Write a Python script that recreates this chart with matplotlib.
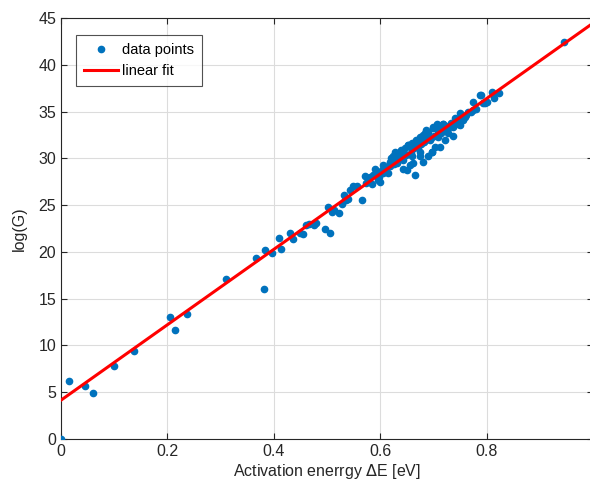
import numpy as np
import matplotlib
matplotlib.use('Agg')
import matplotlib.pyplot as plt

plt.rcParams['font.family'] = ['Liberation Sans', 'DejaVu Sans']

# activation energy [eV] and log(G)
dE = [0.0, 0.0145, 0.045, 0.061, 0.099, 0.137, 0.205, 0.214, 0.236, 0.31,
      0.367, 0.382, 0.384, 0.396, 0.409, 0.414, 0.43, 0.437, 0.449, 0.455,
      0.461, 0.467, 0.476, 0.479, 0.496, 0.506, 0.501, 0.509, 0.513, 0.523,
      0.528, 0.532, 0.535, 0.54, 0.534, 0.543, 0.549, 0.556, 0.566, 0.571,
      0.574, 0.579, 0.584, 0.586, 0.593, 0.596, 0.6, 0.603, 0.606, 0.609,
      0.615, 0.618, 0.624, 0.631, 0.665, 0.643, 0.631, 0.656, 0.662, 0.674,
      0.68, 0.69, 0.697, 0.703, 0.706, 0.709, 0.637, 0.647, 0.653, 0.659,
      0.668, 0.674, 0.684, 0.69, 0.7, 0.618, 0.612, 0.606, 0.712, 0.722,
      0.728, 0.737, 0.747, 0.75, 0.759, 0.765, 0.775, 0.781, 0.789, 0.797,
      0.7, 0.706, 0.718, 0.687, 0.68, 0.741, 0.787, 0.794, 0.81, 0.813,
      0.824, 0.945, 0.737, 0.75, 0.697, 0.643, 0.65, 0.628, 0.64, 0.653,
      0.668, 0.687, 0.718, 0.725, 0.6, 0.606, 0.618, 0.659, 0.674, 0.762,
      0.775, 0.8, 0.812, 0.58, 0.59, 0.62, 0.635, 0.645, 0.66, 0.67,
      0.678, 0.693, 0.71, 0.715, 0.73, 0.755, 0.77,
      0.625, 0.633, 0.641, 0.649, 0.657, 0.664, 0.671, 0.677, 0.683, 0.689,
      0.695, 0.701, 0.708, 0.714, 0.72, 0.727, 0.733, 0.744, 0.752, 0.598]
logG = [0.0, 6.2, 5.64, 4.96, 7.8, 9.45, 13.05, 11.66, 13.37, 17.15,
        19.33, 15.98, 20.2, 19.86, 21.5, 20.29, 21.97, 21.4, 21.97, 21.9,
        22.9, 23.0, 22.9, 23.1, 22.4, 21.97, 24.75, 24.3, 24.5, 24.2,
        25.1, 26.05, 25.5, 25.7, 25.5, 26.6, 27.0, 27.0, 25.5, 28.1,
        27.4, 27.85, 27.3, 28.2, 28.4, 27.7, 27.5, 28.7, 28.4, 29.1,
        28.45, 29.2, 30.2, 29.45, 28.2, 29.8, 29.8, 29.3, 29.45, 30.3,
        29.6, 30.2, 30.7, 31.2, 33.55, 32.3, 30.7, 31.06, 31.4, 31.6,
        31.95, 32.3, 32.7, 32.8, 33.2, 29.45, 29.1, 28.7, 31.2, 31.95,
        32.7, 33.4, 33.7, 34.8, 34.4, 35.0, 36.0, 35.3, 36.75, 35.9,
        33.4, 33.7, 33.7, 33.0, 32.5, 34.3, 36.75, 35.9, 37.1, 36.4,
        36.95, 42.45, 32.4, 33.6, 30.7, 28.9, 28.7, 30.7, 30.9, 31.4,
        31.6, 32.7, 33.7, 33.2, 28.4, 29.3, 29.6, 30.2, 30.7, 34.6,
        35.2, 36.0, 36.9, 28.0, 28.9, 30.0, 30.3, 30.5, 31.0, 31.3,
        31.8, 32.0, 32.6, 33.0, 33.3, 34.1, 35.0,
        29.4, 29.9, 30.1, 30.4, 30.6, 31.1, 31.2, 31.5, 31.7, 32.1,
        32.2, 32.4, 32.9, 32.7, 33.1, 33.5, 33.8, 34.0, 34.5, 28.0]

# linear fit parameters
slope = 40.3
intercept = 4.15

fig = plt.figure(figsize=(5.90, 4.92), dpi=100)
ax = fig.add_axes([61 / 590, 53 / 492, 532 / 590, 421 / 492])

ax.plot(dE, logG, '.', color='#0072BD', markersize=9, label='data points', zorder=3)
xf = np.array([0.0, 1.0])
ax.plot(xf, slope * xf + intercept, color='red', lw=2.2, label='linear fit', zorder=4)

ax.set_xlim(0, 1)
ax.set_ylim(0, 45)
ax.set_xticks([0, 0.2, 0.4, 0.6, 0.8, 1.0])
ax.set_xticklabels(['0', '0.2', '0.4', '0.6', '0.8', '1'])
ax.set_yticks(np.arange(0, 46, 5))

ax.grid(True, color='#dcdcdc', lw=0.8)
ax.set_axisbelow(True)
for s in ax.spines.values():
    s.set_color('#262626')
    s.set_linewidth(0.8)
ax.tick_params(direction='in', top=True, right=True, labelsize=11.5,
               colors='#262626', length=4, width=0.8)

ax.set_xlabel('Activation enerrgy $\\Delta$E [eV]', fontsize=11.5, color='#262626',
              labelpad=2)
ax.set_ylabel('log(G)', fontsize=11.5, color='#262626', labelpad=8)

leg = ax.legend(loc='upper left', bbox_to_anchor=(15 / 532, 1 - 17 / 421),
                borderaxespad=0, fontsize=10.5, frameon=True, fancybox=False,
                borderpad=0.55, handlelength=2.3, handletextpad=0.3,
                labelspacing=0.5)
leg.get_frame().set_edgecolor('#262626')
leg.get_frame().set_linewidth(0.8)

fig.savefig('out.png', dpi=100)
